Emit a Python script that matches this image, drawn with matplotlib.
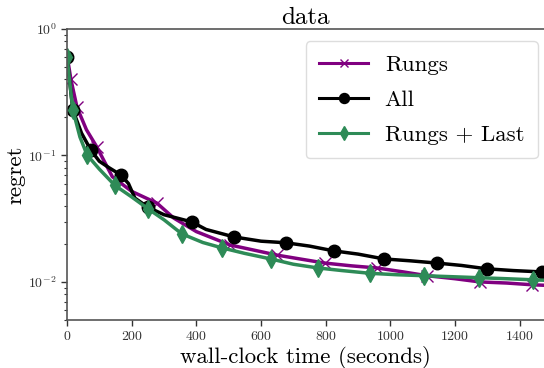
import matplotlib
matplotlib.use("Agg")
import matplotlib.pyplot as plt

plt.rcParams['font.family'] = ['cmr10', 'DejaVu Serif']
plt.rcParams['mathtext.fontset'] = 'cm'
plt.rcParams['axes.formatter.use_mathtext'] = True

# Rungs (purple, x markers)
rungs_x = [0, 12, 31, 60, 92, 140, 200, 278, 330, 400, 504, 580, 649, 720, 797, 880, 958, 1040, 1113, 1200, 1277, 1360, 1437, 1480]
rungs_y = [0.62, 0.40, 0.24, 0.16, 0.117, 0.068, 0.052, 0.042, 0.032, 0.025, 0.0196, 0.0178, 0.0163, 0.0152, 0.0141, 0.0134, 0.0129, 0.0120, 0.0112, 0.0106, 0.0100, 0.0098, 0.0095, 0.0094]
rungs_marks = [1, 2, 4, 7, 10, 12, 14, 16, 18, 20, 22]

# All (black, circles)
all_x = [0, 18, 45, 74, 100, 130, 167, 190, 210, 250, 300, 340, 386, 430, 516, 600, 677, 750, 825, 900, 980, 1060, 1144, 1220, 1298, 1380, 1468, 1480]
all_y = [0.60, 0.229, 0.15, 0.11, 0.09, 0.080, 0.070, 0.060, 0.046, 0.039, 0.034, 0.032, 0.0298, 0.026, 0.0227, 0.021, 0.0204, 0.0192, 0.0176, 0.0166, 0.0152, 0.0147, 0.0141, 0.0135, 0.0127, 0.0123, 0.0120, 0.0119]
all_marks = [0, 1, 3, 6, 9, 12, 14, 16, 18, 20, 22, 24, 26]

# Rungs + Last (green, diamonds)
rl_x = [0, 18, 40, 62, 100, 148, 200, 251, 300, 355, 420, 479, 550, 630, 700, 776, 850, 937, 1020, 1103, 1190, 1274, 1360, 1440, 1480]
rl_y = [0.60, 0.23, 0.14, 0.101, 0.078, 0.058, 0.047, 0.0378, 0.031, 0.024, 0.0205, 0.0186, 0.0168, 0.0152, 0.0138, 0.0129, 0.0123, 0.0117, 0.0114, 0.0112, 0.0110, 0.0108, 0.0106, 0.0104, 0.0103]
rl_marks = [0, 1, 3, 5, 7, 9, 11, 13, 15, 17, 19, 21, 23]

fig = plt.figure(figsize=(5.44, 3.68), dpi=100)
ax = fig.add_axes([67/544, 1 - 320/368, 1 - 67/544, (320 - 29)/368])

ax.plot(rungs_x, rungs_y, color='#800080', lw=2.5, marker='x', ms=8, mew=1.0,
        markevery=rungs_marks, label='Rungs')
ax.plot(all_x, all_y, color='black', lw=2.5, marker='o', ms=9,
        markevery=all_marks, label='All')
ax.plot(rl_x, rl_y, color='#2e8b57', lw=2.5, marker='d', ms=9,
        markevery=rl_marks, label='Rungs + Last')

ax.set_yscale('log')
ax.set_ylim(0.005, 1)
ax.set_xlim(0, 1475)
ax.set_xticks([0, 200, 400, 600, 800, 1000, 1200, 1400])

for s in ['left', 'bottom', 'top']:
    ax.spines[s].set_color('#555555')
    ax.spines[s].set_linewidth(1.2)
ax.spines['right'].set_visible(False)
ax.tick_params(axis='both', which='both', colors='#333333', labelsize=10, direction='out')
ax.tick_params(axis='both', which='major', length=4, width=1)
ax.tick_params(axis='y', which='minor', length=2.5, width=0.8)

ax.set_xlabel('wall-clock time (seconds)', fontsize=16.5, labelpad=2)
ax.set_ylabel('regret', fontsize=16.5, labelpad=2)
ax.set_title('data', fontsize=18, pad=3)

leg = ax.legend(loc='upper right', fontsize=16.5, numpoints=1, handlelength=2.1,
                handletextpad=0.75, labelspacing=0.65, borderpad=0.6, borderaxespad=0,
                bbox_to_anchor=(538/544, 1 - 41/368), bbox_transform=fig.transFigure,
                markerscale=0.8, framealpha=1.0, edgecolor='#dddddd')
for h in leg.get_lines():
    h.set_linewidth(2.2)

fig.savefig('out.png', dpi=100)
